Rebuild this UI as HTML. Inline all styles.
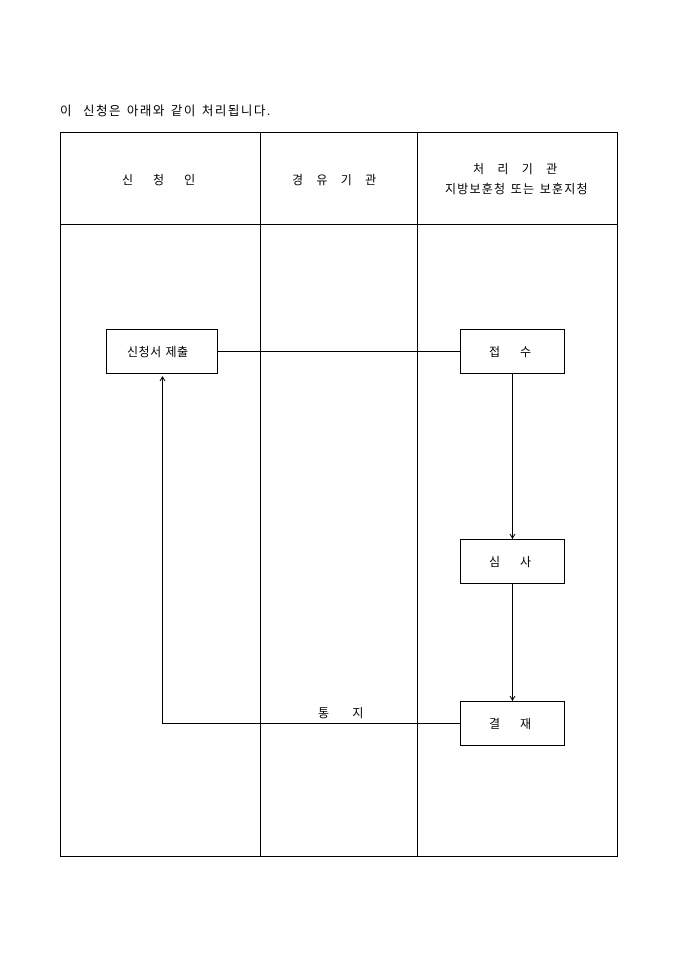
<!DOCTYPE html>
<html><head><meta charset="utf-8"><style>
body{margin:0;width:680px;height:962px;background:#fff;position:relative;font-family:"Liberation Sans","Noto Sans CJK KR","NanumGothic",sans-serif;color:#000}
.t{position:absolute;font-size:12px;white-space:pre;line-height:14px}
</style></head><body>
<div class="t" style="left:60px;top:104px;font-size:12.5px;letter-spacing:1.5px">이  신청은 아래와 같이 처리됩니다.</div>
<svg width="680" height="962" style="position:absolute;left:0;top:0" shape-rendering="crispEdges">
<g stroke="#000" fill="none" stroke-width="1">
<rect x="60.5" y="132.5" width="557" height="724"/>
<line x1="60" y1="224.5" x2="618" y2="224.5"/>
<line x1="260.5" y1="132" x2="260.5" y2="857"/>
<line x1="417.5" y1="132" x2="417.5" y2="857"/>
<rect x="106.5" y="329.5" width="111" height="44" fill="#fff"/>
<rect x="460.5" y="329.5" width="104" height="44" fill="#fff"/>
<rect x="460.5" y="539.5" width="104" height="44" fill="#fff"/>
<rect x="460.5" y="701.5" width="104" height="44" fill="#fff"/>
<line x1="218" y1="351.5" x2="460" y2="351.5"/>
<line x1="512.5" y1="374" x2="512.5" y2="539"/>
<line x1="512.5" y1="584" x2="512.5" y2="701"/>
<line x1="460" y1="723.5" x2="162" y2="723.5"/>
<line x1="162.5" y1="723" x2="162.5" y2="378"/>
</g>
<g stroke="#000" fill="none" stroke-width="1" shape-rendering="auto">
<path d="M160 381 L162.5 377 L165 381"/>
<path d="M510 534 L512.5 538 L515 534"/>
<path d="M510 696 L512.5 700 L515 696"/>
</g>
</svg>
<div class="t" style="left:122px;top:173px">신      청      인</div>
<div class="t" style="left:292px;top:173px">경    유    기    관</div>
<div class="t" style="left:473px;top:162px">처    리    기    관</div>
<div class="t" style="left:445px;top:182px;letter-spacing:1.2px">지방보훈청 또는 보훈지청</div>
<div class="t" style="left:127px;top:345px;letter-spacing:0.5px">신청서 제출</div>
<div class="t" style="left:489px;top:345px">접      수</div>
<div class="t" style="left:489px;top:555px">심      사</div>
<div class="t" style="left:489px;top:717px">결      재</div>
<div class="t" style="left:318px;top:706px">통       지</div>
</body></html>
